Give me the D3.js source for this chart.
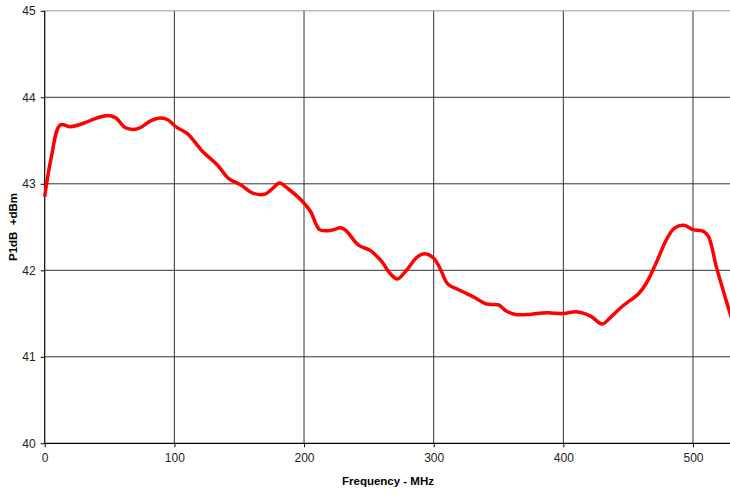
<!DOCTYPE html>
<html>
<head>
<meta charset="utf-8">
<script src="https://cdn.jsdelivr.net/npm/d3@7"></script>
<style>
    body { margin: 0; background: #fff; }
    svg { display: block; font-family: 'Liberation Sans', Arial, sans-serif; }
</style>
</head>
<body>
<svg id="chart" width="730" height="495"></svg>
<script>
var frequencies = [0, 5, 12, 20, 30, 40, 49, 55, 62, 70, 75, 82, 89, 95, 101, 110, 122, 133, 142, 151,
    161, 170, 176, 181, 188, 198, 205, 212, 220, 229, 233, 242, 251, 260, 266, 272, 279, 287, 293, 300,
    305, 311, 320, 331, 341, 350, 356, 363, 374, 387, 400, 410, 421, 430, 436, 446, 458, 464, 472, 480,
    486, 493, 500, 508, 512, 518, 527, 530];
var p1dbValues = [42.85, 43.30, 43.68, 43.66, 43.70, 43.76, 43.79, 43.76, 43.65, 43.63, 43.66, 43.73, 43.76, 43.74, 43.66, 43.58, 43.37, 43.22, 43.06, 42.99,
    42.89, 42.88, 42.95, 43.01, 42.94, 42.81, 42.68, 42.47, 42.46, 42.49, 42.45, 42.29, 42.23, 42.10, 41.97, 41.90, 42.00, 42.15, 42.19, 42.14,
    42.02, 41.84, 41.77, 41.69, 41.61, 41.60, 41.53, 41.49, 41.49, 41.51, 41.50, 41.52, 41.47, 41.38, 41.45, 41.59, 41.73, 41.85, 42.10, 42.37,
    42.49, 42.52, 42.47, 42.45, 42.39, 42.04, 41.58, 41.43];
var xTicks = [0, 100, 200, 300, 400, 500];
var yTicks = [40, 41, 42, 43, 44, 45];

var plotLeft = 44.7,
    plotRight = 731.9,
    plotTop = 10.8,
    plotBottom = 443.3;

var svg = d3.select('#chart');

var x = d3.scaleLinear().domain([0, 530]).range([plotLeft, plotRight]);
var y = d3.scaleLinear().domain([40, 45]).range([plotBottom, plotTop]);

// grid
svg.append('g')
    .selectAll('line')
    .data(xTicks.slice(1))
    .enter()
    .append('line')
        .attr('x1', function(d) { return x(d); })
        .attr('x2', function(d) { return x(d); })
        .attr('y1', plotTop)
        .attr('y2', plotBottom)
        .attr('stroke', '#333')
        .attr('stroke-width', 1);

svg.append('g')
    .selectAll('line')
    .data([41, 42, 43, 44])
    .enter()
    .append('line')
        .attr('x1', plotLeft)
        .attr('x2', plotRight)
        .attr('y1', function(d) { return y(d); })
        .attr('y2', function(d) { return y(d); })
        .attr('stroke', '#333')
        .attr('stroke-width', 1);

// top border
svg.append('line')
    .attr('x1', plotLeft)
    .attr('x2', plotRight)
    .attr('y1', y(45))
    .attr('y2', y(45))
    .attr('stroke', '#999')
    .attr('stroke-width', 1);

// axes
var xAxis = d3.axisBottom(x).tickValues(xTicks).tickSize(4).tickPadding(6).tickFormat(d3.format('d'));
var yAxis = d3.axisLeft(y).tickValues(yTicks).tickSize(4).tickPadding(5).tickFormat(d3.format('d'));

var gx = svg.append('g')
    .attr('transform', 'translate(0,' + plotBottom + ')')
    .call(xAxis);
var gy = svg.append('g')
    .attr('transform', 'translate(' + plotLeft + ',0)')
    .call(yAxis);

[gx, gy].forEach(function(g) {
    g.select('.domain').attr('stroke', '#000').attr('stroke-width', 1.2);
    g.selectAll('.tick line').attr('stroke', '#000');
    g.selectAll('.tick text')
        .attr('fill', '#222')
        .style('font-size', '12px')
        .style('font-family', "'Liberation Sans', Arial, sans-serif");
});
gy.select('.domain').attr('d', 'M0,' + plotTop + 'V' + plotBottom);
gx.select('.domain').attr('d', 'M' + plotLeft + ',0H' + plotRight);

// data line
var line = d3.line()
    .x(function(d) { return x(d[0]); })
    .y(function(d) { return y(d[1]); })
    .curve(d3.curveCatmullRom.alpha(0.5));

svg.append('path')
    .datum(d3.zip(frequencies, p1dbValues))
    .attr('fill', 'none')
    .attr('stroke', '#ff0000')
    .attr('stroke-width', 3.5)
    .attr('stroke-linejoin', 'round')
    .attr('d', line);

// titles
svg.append('text')
    .attr('x', 388)
    .attr('y', 485)
    .attr('text-anchor', 'middle')
    .style('font-size', '11.5px')
    .style('font-weight', 'bold')
    .attr('fill', '#000')
    .text('Frequency - MHz');

svg.append('text')
    .attr('transform', 'translate(17,227) rotate(-90)')
    .attr('text-anchor', 'middle')
    .style('font-size', '11.5px')
    .style('font-weight', 'bold')
    .style('white-space', 'pre')
    .attr('fill', '#000')
    .text('P1dB  +dBm');
</script>
</body>
</html>
